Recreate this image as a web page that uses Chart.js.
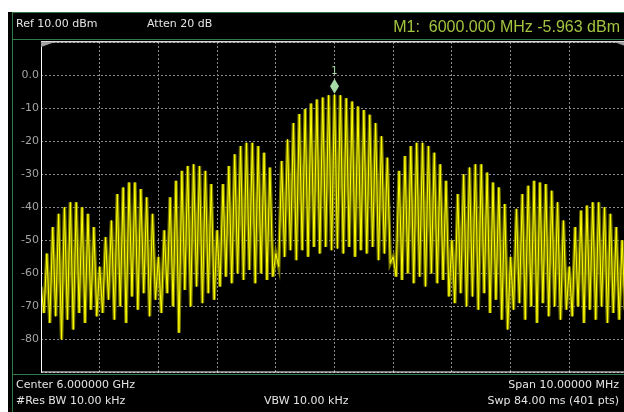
<!DOCTYPE html>
<html>
<head>
<meta charset="utf-8">
<script src="https://cdn.jsdelivr.net/npm/chart.js@4"></script>
<style>
  html, body { margin: 0; padding: 0; background: #fff; overflow: hidden; width: 624px; height: 412px; }
  #screen { position: absolute; left: 8px; top: 12px; width: 640px; height: 400px; background: #000; }
  canvas { position: absolute; left: 0; top: 0; }
  .g { position: absolute; background: #2f7d46; }
  .t { position: absolute; font: 11px "DejaVu Sans", sans-serif; color: #e4e4e4; white-space: pre; line-height: 14px; }
  #mkr { position: absolute; right: 4px; top: 17px; font: 16px "Liberation Sans", sans-serif; color: #a3c43f; white-space: pre; line-height: 20px; }
</style>
</head>
<body>
<div id="screen"></div>
<canvas id="myChart" width="632" height="412"></canvas>
<div class="g" style="left:12px;top:12px;width:1px;height:400px"></div>
<div class="g" style="left:12px;top:12px;width:620px;height:1px"></div>
<div class="g" style="left:12px;top:39px;width:620px;height:1px"></div>
<div class="g" style="left:12px;top:374px;width:620px;height:1px"></div>
<div class="t" style="left:16px;top:17px">Ref 10.00 dBm</div>
<div class="t" style="left:147px;top:17px">Atten 20 dB</div>
<div id="mkr">M1:  6000.000 MHz -5.963 dBm</div>
<div class="t" style="left:16px;top:378px">Center 6.000000 GHz</div>
<div class="t" style="left:16px;top:394px">#Res BW 10.00 kHz</div>
<div class="t" style="left:264px;top:394px">VBW 10.00 kHz</div>
<div class="t" style="right:5px;top:378px">Span 10.00000 MHz</div>
<div class="t" style="right:5px;top:394px">Swp 84.00 ms (401 pts)</div>
<script>
// sweep: 5995 .. 6005 MHz
const startMHz = 5995;
const stopMHz = 6005;
const refLevel = 10;
const bottomLevel = -90;
const markerFreq = 6000;
const markerLevel = -5.963;

// trace levels (dBm), one lobe per line
const trace = [
  -64, -72, -54, -75, -46, -73, -42, -80, -40, -74, -38.5, -77, -38.5, -72, -40, -75, -42, -71, -46, -73,
  -58, -72, -49, -68, -44, -74, -36, -70, -34, -75, -32.5, -67, -32.5, -71, -34.5, -66, -37, -73, -42, -68,
  -55, -72, -47, -66, -37, -70, -32, -78, -29, -65, -27.5, -70, -27, -64, -27.5, -69, -29, -66, -33, -68,
  -47, -64, -33, -61, -27.5, -63, -24, -60, -21.5, -62, -20.5, -59, -20.5, -63, -21.5, -60, -23.5, -62, -28, -61,
  -54, -58, -26, -55, -19.5, -53, -14.5, -56, -11.8, -53, -10.3, -55, -8.6, -52, -7.4, -54, -6.8, -52, -6.1, -53,
  -5.963, -52.5, -6.1, -54, -7, -52, -8, -55, -9.5, -53, -10.6, -54, -12, -52, -14.5, -56, -18.5, -54, -25, -57,
  -55, -61, -29, -62, -24.5, -60, -21.5, -63, -20.5, -61, -20.5, -64, -21.5, -60, -23.5, -63, -27, -62, -32, -67,
  -50, -69, -36, -66, -30, -70, -28, -67, -27, -71, -27, -66, -29.5, -72, -32.5, -68, -34, -74, -39, -77,
  -55, -71, -40.5, -69, -36, -74, -33.5, -70, -32, -75, -32.5, -69, -33, -73, -35, -70, -38.5, -74, -44, -71,
  -58, -73, -46, -70, -41, -75, -39.5, -71, -38.5, -74, -38.5, -70, -40, -75, -42, -72, -46, -74, -50, -71,
  -62
];

const points = trace.map((v, i) => ({
  x: startMHz + (stopMHz - startMHz) * i / (trace.length - 1),
  y: v
}));

// frame of the graticule + marker diamond
const screenPlugin = {
  id: 'screen',
  afterDraw(chart) {
    const { ctx, chartArea: a, scales } = chart;
    ctx.save();
    ctx.strokeStyle = '#d8d8d8';
    ctx.lineWidth = 1.5;
    ctx.beginPath();
    ctx.moveTo(a.left, a.top - 0.25);
    ctx.lineTo(a.right, a.top - 0.25);
    ctx.stroke();
    ctx.strokeStyle = '#ffffff';
    ctx.lineWidth = 1;
    ctx.beginPath();
    ctx.moveTo(a.left + 0.5, a.top);
    ctx.lineTo(a.left + 0.5, a.bottom);
    ctx.moveTo(a.left, a.bottom - 0.5);
    ctx.lineTo(a.right, a.bottom - 0.5);
    ctx.stroke();

    ctx.fillStyle = '#a0a0a0';
    ctx.beginPath();
    ctx.moveTo(a.left, a.top);
    ctx.lineTo(a.left + 14, a.top);
    ctx.lineTo(a.left, a.top + 5);
    ctx.fill();
    ctx.beginPath();
    ctx.moveTo(a.right, a.top);
    ctx.lineTo(a.right - 14, a.top);
    ctx.lineTo(a.right, a.top + 5);
    ctx.fill();

    const mx = scales.x.getPixelForValue(markerFreq);
    const my = scales.y.getPixelForValue(markerLevel);
    ctx.fillStyle = '#a6dca6';
    ctx.beginPath();
    ctx.moveTo(mx, my - 1);
    ctx.lineTo(mx + 4.5, my - 8.5);
    ctx.lineTo(mx, my - 16);
    ctx.lineTo(mx - 4.5, my - 8.5);
    ctx.closePath();
    ctx.fill();
    ctx.font = '10px "DejaVu Sans"';
    ctx.textAlign = 'center';
    ctx.textBaseline = 'middle';
    ctx.fillText('1', mx, my - 23);
    ctx.restore();
  }
};

Chart.defaults.font.family = '"DejaVu Sans", sans-serif';

const chartArea = document.getElementById('myChart').getContext('2d');
const myChart = new Chart(chartArea, {
  type: 'line',
  data: {
    datasets: [
      {
        data: points,
        borderColor: '#ffff00',
        borderWidth: 1,
        pointRadius: 0,
        tension: 0,
        order: 0
      },
      {
        data: points,
        borderColor: 'rgba(140, 140, 0, 0.85)',
        borderWidth: 3.5,
        pointRadius: 0,
        tension: 0,
        order: 1
      }
    ]
  },
  options: {
    responsive: false,
    animation: false,
    devicePixelRatio: 1,
    layout: { padding: { left: 8, top: 42, right: 4, bottom: 39.5 } },
    plugins: { legend: { display: false }, tooltip: { enabled: false } },
    scales: {
      x: {
        type: 'linear',
        min: startMHz,
        max: stopMHz,
        ticks: { display: false, stepSize: 1 },
        grid: { color: '#8c8c8c', drawTicks: false },
        border: { display: false, dash: [2, 2] },
        afterFit(s) { s.height = 0; }
      },
      y: {
        min: bottomLevel,
        max: refLevel,
        ticks: {
          stepSize: 10,
          color: '#a4a4a4',
          padding: 2,
          font: { size: 11 },
          callback: v => v === 0 ? '0.0' : (v === refLevel || v === bottomLevel ? '' : String(v))
        },
        grid: { color: '#8c8c8c', drawTicks: false },
        border: { display: false, dash: [2, 2] },
        afterFit(s) { s.width = 33; }
      }
    }
  },
  plugins: [screenPlugin]
});
</script>
</body>
</html>
